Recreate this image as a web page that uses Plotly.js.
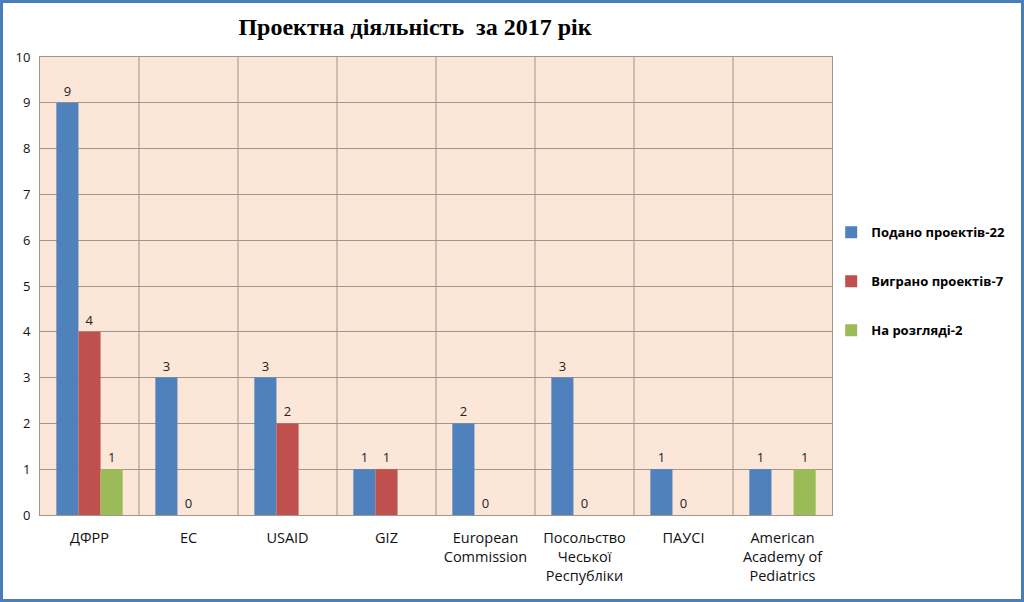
<!DOCTYPE html>
<html>
<head>
<meta charset="utf-8">
<script src="https://cdn.plot.ly/plotly-3.0.1.min.js"></script>
<style>
html,body{margin:0;padding:0;background:#fff;}
#wrap{position:relative;width:1024px;height:602px;}
#chart{width:1024px;height:602px;}
#frame{position:absolute;left:0;top:0;width:1024px;height:602px;box-sizing:border-box;border:3px solid #4A7EBB;pointer-events:none;}
</style>
</head>
<body>
<div id="wrap"><div id="chart"></div><div id="frame"></div></div>
<script>
const categories = ["ДФРР", "ЕС", "USAID", "GIZ", "European<br>Commission", "Посольство<br>Чеської<br>Республіки", "ПАУСІ", "American<br>Academy of<br>Pediatrics"];
const submitted = [9, 3, 3, 1, 2, 3, 1, 1];
const won = [4, 0, 2, 1, 0, 0, 0, null];
const pending = [1, null, null, null, null, null, null, 1];
const seriesNames = ["Подано проектів-22", "Виграно проектів-7", "На розгляді-2"];
const yTicks = [0,1,2,3,4,5,6,7,8,9,10];

const colors = ["#4F81BD", "#C0504D", "#9BBB59"];
const series = [submitted, won, pending];

const traces = series.map((vals, i) => ({
  type: 'bar',
  x: categories,
  y: vals,
  name: seriesNames[i],
  legendgroup: 'g' + i,
  marker: {color: colors[i], line: {width: 0}},
  text: vals.map(v => v === null ? '' : String(v)),
  textposition: 'outside',
  cliponaxis: false,
  textfont: {family: 'Open Sans, sans-serif', size: 13, color: '#222'}
}));

const layout = {
  width: 1024, height: 602,
  margin: {l: 40, r: 192, t: 57, b: 87, autoexpand: false},
  paper_bgcolor: '#ffffff',
  plot_bgcolor: '#FCE6D7',
  barmode: 'group',
  bargap: 0.33,
  bargroupgap: 0,
  title: {
    text: '<b>Проектна діяльність  за 2017 рік</b>',
    font: {family: 'Liberation Serif, serif', size: 24, color: '#000'},
    x: 415/1024, xref: 'container', xanchor: 'center',
    y: 1 - 27/602, yref: 'container', yanchor: 'middle'
  },
  xaxis: {
    showgrid: false,
    ticks: '',
    tickfont: {family: 'Open Sans, sans-serif', size: 14.5, color: '#111'},
    linecolor: '#A0968C', linewidth: 1, showline: true, mirror: true,
    tickangle: 0,
    ticklabelstandoff: 10
  },
  yaxis: {
    range: [0, 10],
    tickvals: yTicks,
    ticktext: yTicks.map(String),
    gridcolor: '#A0968C', gridwidth: 1,
    zeroline: false,
    showline: true, linecolor: '#A0968C', mirror: true,
    tickfont: {family: 'Open Sans, sans-serif', size: 13, color: '#111'},
    ticklabelstandoff: 6
  },
  shapes: categories.slice(1).map((c, i) => ({
    type: 'line', xref: 'x', yref: 'paper',
    x0: i + 0.5, x1: i + 0.5, y0: 0, y1: 1,
    line: {color: '#A0968C', width: 1}, layer: 'below'
  })),
  legend: {
    x: 0.999, xanchor: 'left', y: 0.51, yanchor: 'middle',
    font: {family: 'Open Sans, sans-serif', size: 13, color: '#000', weight: 'bold'},
    tracegroupgap: 29,
    itemwidth: 30,
    bgcolor: 'rgba(0,0,0,0)'
  },
  showlegend: true
};

Plotly.newPlot('chart', traces, layout, {displayModeBar: false, staticPlot: true});
</script>
</body>
</html>
